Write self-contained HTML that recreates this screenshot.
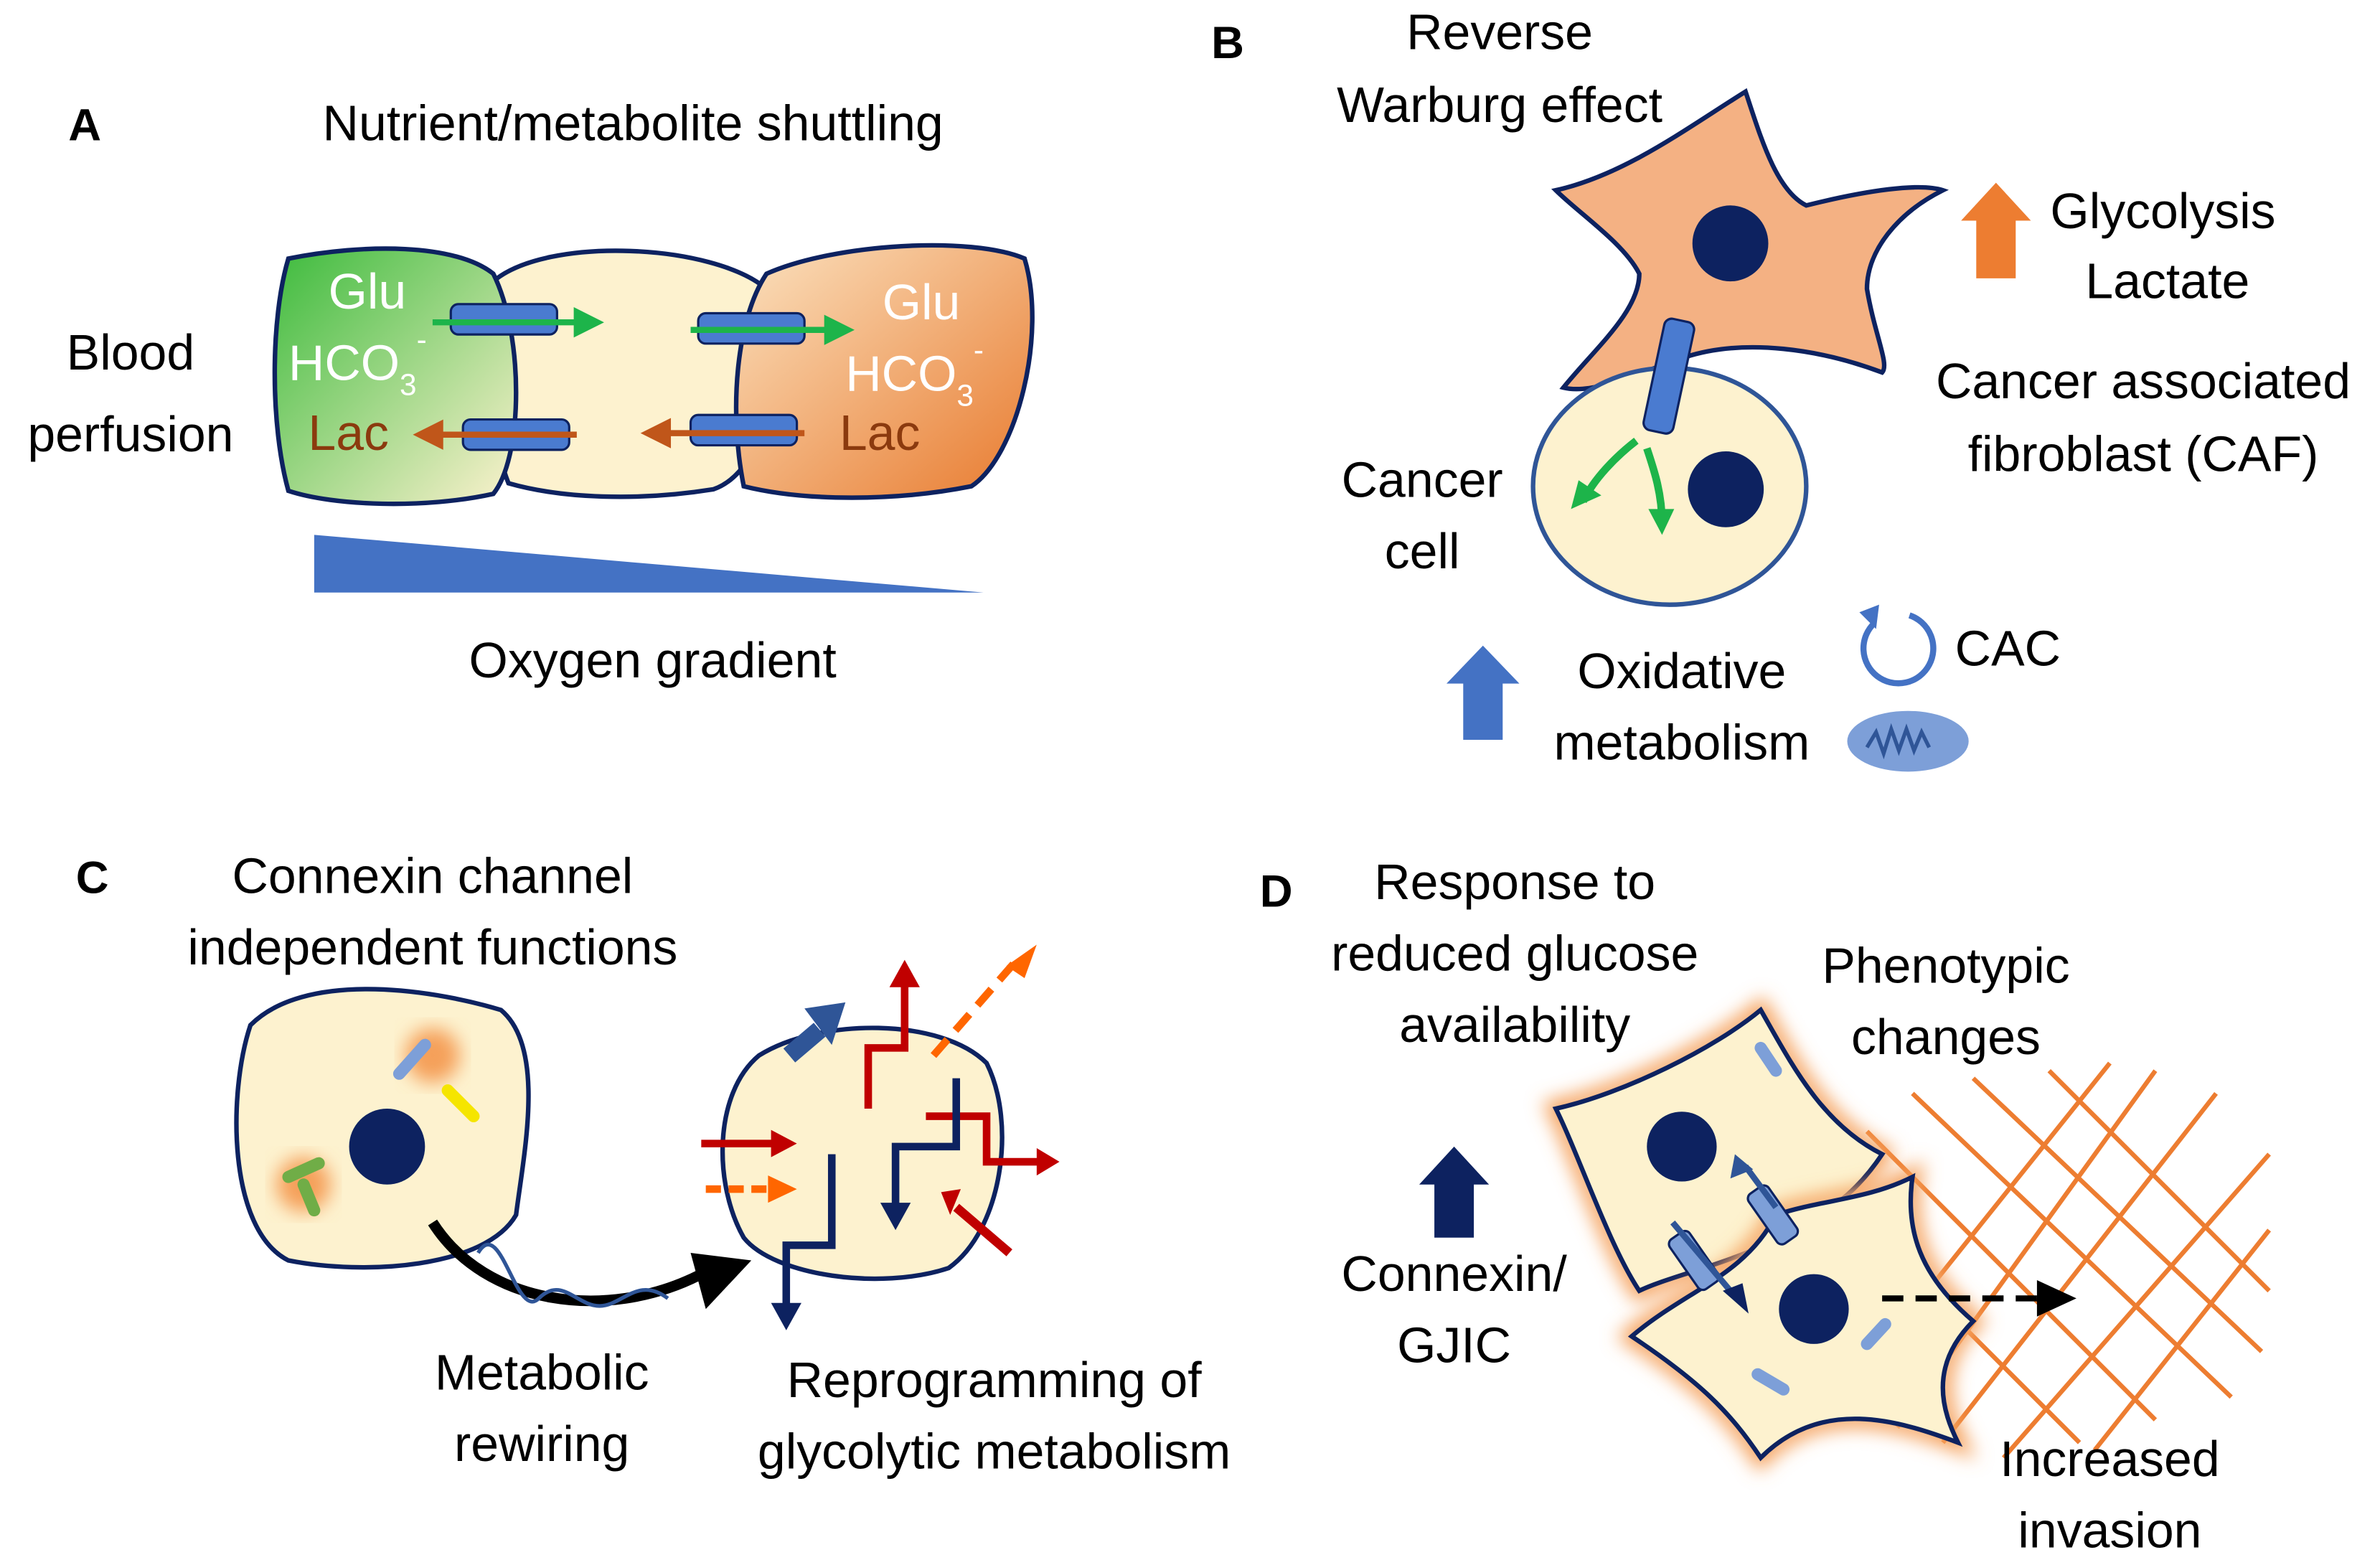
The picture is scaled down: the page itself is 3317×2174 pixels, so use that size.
<!DOCTYPE html>
<html><head><meta charset="utf-8"><style>
html,body{margin:0;padding:0;background:#fff;}
svg{display:block;}
text{font-family:"Liberation Sans",sans-serif;font-size:33px;fill:#000;}
</style></head><body>
<svg width="3317" height="2174" viewBox="0 0 1568 1027" xmlns="http://www.w3.org/2000/svg">
<defs>
<linearGradient id="gG" x1="0" y1="0" x2="1" y2="1"><stop offset="0" stop-color="#3dbb3d"/><stop offset="1" stop-color="#fdf2cf"/></linearGradient>
<linearGradient id="gO" x1="1" y1="1" x2="0" y2="0"><stop offset="0" stop-color="#e87a2e"/><stop offset="1" stop-color="#fbe2c0"/></linearGradient>
<filter id="glow" x="-20%" y="-20%" width="140%" height="140%"><feGaussianBlur stdDeviation="6"/></filter>
</defs>
<!-- Panel A -->
<text x="45" y="92" font-weight="bold" style="font-size:30px">A</text>
<text x="417" y="92" text-anchor="middle">Nutrient/metabolite shuttling</text>
<text x="86" y="243" text-anchor="middle">Blood</text>
<text x="86" y="297" text-anchor="middle">perfusion</text>
<path d="M325,185 C360,155 470,160 505,190 C520,240 505,310 470,322 C420,330 370,328 335,318 C320,280 318,220 325,185Z" fill="#fdf2cf" stroke="#0d2260" stroke-width="3"/>
<path d="M190,170 C240,160 300,160 325,180 C345,220 345,300 325,325 C280,335 220,333 190,323 C178,280 178,210 190,170Z" fill="url(#gG)" stroke="#0d2260" stroke-width="3"/>
<path d="M505,180 C550,160 640,155 675,170 C690,220 670,300 640,320 C590,330 530,330 490,320 C480,270 485,210 505,180Z" fill="url(#gO)" stroke="#0d2260" stroke-width="3"/>
<text x="242" y="203" text-anchor="middle" style="fill:#fff">Glu</text>
<text x="190" y="250" style="fill:#fff">HCO<tspan style="font-size:20px" dy="10">3</tspan><tspan style="font-size:20px" dy="-30">-</tspan></text>
<text x="203" y="296" style="fill:#8b3a0e">Lac</text>
<text x="607" y="210" text-anchor="middle" style="fill:#fff">Glu</text>
<text x="557" y="257" style="fill:#fff">HCO<tspan style="font-size:20px" dy="10">3</tspan><tspan style="font-size:20px" dy="-30">-</tspan></text>
<text x="553" y="296" style="fill:#8b3a0e">Lac</text>
<g fill="#4a7bd0" stroke="#0d2260" stroke-width="1.5">
<rect x="297" y="200" width="70" height="20" rx="5"/><rect x="460" y="206" width="70" height="20" rx="5"/>
<rect x="305" y="276" width="70" height="20" rx="5"/><rect x="455" y="273" width="70" height="20" rx="5"/>
</g>
<g stroke-width="4">
<line x1="285" y1="212" x2="380" y2="212" stroke="#1db44a"/><path d="M378,202L398,212L378,222z" fill="#1db44a"/>
<line x1="455" y1="217" x2="545" y2="217" stroke="#1db44a"/><path d="M543,207L563,217L543,227z" fill="#1db44a"/>
<line x1="290" y1="286" x2="380" y2="286" stroke="#c0561a"/><path d="M292,276L272,286L292,296z" fill="#c0561a"/>
<line x1="440" y1="285" x2="530" y2="285" stroke="#c0561a"/><path d="M442,275L422,285L442,295z" fill="#c0561a"/>
</g>
<path d="M207,352L207,390L648,390z" fill="#4472c4"/>
<text x="430" y="446" text-anchor="middle">Oxygen gradient</text>
<!-- Panel B -->
<text x="798" y="38" font-weight="bold" style="font-size:30px">B</text>
<text x="988" y="32" text-anchor="middle">Reverse</text>
<text x="988" y="80" text-anchor="middle">Warburg effect</text>
<path d="M1025,125 C1070,115 1110,85 1150,60 C1160,90 1170,125 1190,135 C1230,125 1265,120 1280,125 C1250,140 1230,165 1230,190 C1235,220 1245,240 1240,245 C1200,230 1150,222 1110,235 C1080,245 1050,260 1030,255 C1050,230 1080,205 1080,180 C1070,160 1040,140 1025,125Z" fill="#f4b183" stroke="#0d2260" stroke-width="3"/>
<circle cx="1140" cy="160" r="25" fill="#0d2260"/>
<ellipse cx="1100" cy="320" rx="90" ry="78" fill="#fdf2cf" stroke="#2f5597" stroke-width="3"/>
<circle cx="1137" cy="322" r="25" fill="#0d2260"/>
<g fill="#4a7bd0" stroke="#0d2260" stroke-width="1.5" transform="rotate(12 1100 245)">
<rect x="1090" y="210" width="20" height="75" rx="5"/>
</g>
<g stroke="#1db44a" stroke-width="5" fill="none">
<path d="M1078,290 C1065,300 1050,315 1043,330"/><path d="M1085,295 C1090,310 1095,325 1095,345"/>
</g>
<path d="M1035,335L1040,316L1055,326z" fill="#1db44a"/><path d="M1095,352L1086,335L1103,335z" fill="#1db44a"/>
<path d="M1292,145L1315,120L1338,145L1328,145L1328,183L1302,183L1302,145z" fill="#ed7d31"/>
<text x="1425" y="150" text-anchor="middle">Glycolysis</text>
<text x="1428" y="196" text-anchor="middle">Lactate</text>
<text x="1412" y="262" text-anchor="middle">Cancer associated</text>
<text x="1412" y="310" text-anchor="middle">fibroblast (CAF)</text>
<text x="937" y="327" text-anchor="middle">Cancer</text>
<text x="937" y="374" text-anchor="middle">cell</text>
<path d="M953,450L977,425L1001,450L990,450L990,487L964,487L964,450z" fill="#4472c4"/>
<text x="1108" y="453" text-anchor="middle">Oxidative</text>
<text x="1108" y="500" text-anchor="middle">metabolism</text>
<path d="M1235,410 A23,23 0 1,0 1258,405" fill="none" stroke="#4472c4" stroke-width="4"/>
<path d="M1225,403L1238,398L1236,414z" fill="#4472c4"/>
<text x="1288" y="438">CAC</text>
<ellipse cx="1257" cy="488" rx="40" ry="20" fill="#7d9fd8"/>
<path d="M1230,492 l6,-10 l5,14 l5,-16 l5,14 l5,-14 l5,14 l5,-12 l5,10" stroke="#2f5597" stroke-width="2.5" fill="none"/>
<!-- Panel C -->
<text x="50" y="588" font-weight="bold" style="font-size:30px">C</text>
<text x="285" y="588" text-anchor="middle">Connexin channel</text>
<text x="285" y="635" text-anchor="middle">independent functions</text>
<path d="M165,675 C200,640 280,650 330,665 C360,690 345,760 340,800 C320,835 240,840 190,830 C150,810 150,720 165,675Z" fill="#fdf2cf" stroke="#0d2260" stroke-width="3"/>
<circle cx="255" cy="755" r="25" fill="#0d2260"/>
<circle cx="285" cy="695" r="18" fill="#f5a05a" filter="url(#glow)"/>
<circle cx="200" cy="780" r="18" fill="#f5a05a" filter="url(#glow)"/>
<line x1="263" y1="707" x2="280" y2="688" stroke="#7d9fd8" stroke-width="8" stroke-linecap="round"/>
<line x1="295" y1="718" x2="312" y2="735" stroke="#f5e500" stroke-width="8" stroke-linecap="round"/>
<line x1="190" y1="775" x2="210" y2="766" stroke="#70ad47" stroke-width="8" stroke-linecap="round"/>
<line x1="200" y1="780" x2="207" y2="797" stroke="#70ad47" stroke-width="8" stroke-linecap="round"/>
<path d="M285,805 C320,860 400,870 460,840" stroke="#000" stroke-width="7" fill="none"/>
<path d="M455,825L495,830L465,862z" fill="#000"/>
<path d="M315,825 C330,800 340,870 355,855 C370,840 380,860 395,860 C410,860 420,840 440,855" stroke="#2f5597" stroke-width="2.5" fill="none"/>
<text x="357" y="915" text-anchor="middle">Metabolic</text>
<text x="357" y="962" text-anchor="middle">rewiring</text>
<path d="M500,695 C540,670 620,670 650,700 C670,740 660,810 625,835 C580,850 510,840 490,815 C470,780 470,720 500,695Z" fill="#fdf2cf" stroke="#0d2260" stroke-width="3"/>
<g fill="none" stroke-width="5">
<path d="M572,730 L572,690 L596,690 L596,645" stroke="#c00000"/>
<path d="M610,735 L650,735 L650,765 L685,765" stroke="#c00000"/>
<path d="M462,753 L510,753" stroke="#c00000"/>
<path d="M665,825 L630,795" stroke="#c00000" stroke-width="6"/>
<path d="M548,760 L548,820 L518,820 L518,860" stroke="#0d2260"/>
<path d="M630,710 L630,755 L590,755 L590,795" stroke="#0d2260"/>
<path d="M465,783 L510,783" stroke="#ff6600" stroke-dasharray="10,5"/>
<path d="M615,695 L670,632" stroke="#ff6600" stroke-dasharray="14,8"/>
<path d="M520,695 L540,678" stroke="#2f5597" stroke-width="12"/>
</g>
<path d="M586,650L596,632L606,650z" fill="#c00000"/>
<path d="M683,756L698,765L683,774z" fill="#c00000"/>
<path d="M508,744L525,753L508,762z" fill="#c00000"/>
<path d="M620,785L633,783L626,800z" fill="#c00000"/>
<path d="M508,874L518,856L528,874z" fill="#0d2260" transform="rotate(180 518 866)"/>
<path d="M580,792L590,810L600,792z" fill="#0d2260"/>
<path d="M506,774L525,783L506,792z" fill="#ff6600"/>
<path d="M663,636L683,622L675,644z" fill="#ff6600"/>
<path d="M530,664L557,660L548,688z" fill="#2f5597"/>
<text x="655" y="920" text-anchor="middle">Reprogramming of</text>
<text x="655" y="967" text-anchor="middle">glycolytic metabolism</text>
<!-- Panel D -->
<text x="830" y="597" font-weight="bold" style="font-size:30px">D</text>
<text x="998" y="592" text-anchor="middle">Response to</text>
<text x="998" y="639" text-anchor="middle">reduced glucose</text>
<text x="998" y="686" text-anchor="middle">availability</text>
<text x="1282" y="647" text-anchor="middle">Phenotypic</text>
<text x="1282" y="694" text-anchor="middle">changes</text>
<path d="M935,780L958,755L981,780L971,780L971,815L945,815L945,780z" fill="#0d2260"/>
<text x="958" y="850" text-anchor="middle">Connexin/</text>
<text x="958" y="897" text-anchor="middle">GJIC</text>
<g stroke="#ed7d31" stroke-width="3">
<line x1="1230" y1="745" x2="1420" y2="935"/><line x1="1260" y1="720" x2="1470" y2="920"/><line x1="1300" y1="710" x2="1490" y2="890"/><line x1="1220" y1="800" x2="1370" y2="950"/><line x1="1350" y1="705" x2="1495" y2="850"/>
<line x1="1250" y1="940" x2="1420" y2="705"/><line x1="1280" y1="950" x2="1460" y2="720"/><line x1="1320" y1="960" x2="1495" y2="760"/><line x1="1230" y1="900" x2="1390" y2="700"/><line x1="1380" y1="955" x2="1495" y2="810"/>
</g>
<g fill="#fdf2cf" stroke="#0d2260" stroke-width="3">
<path d="M1025,730 C1070,720 1130,690 1160,665 C1180,700 1200,740 1240,760 C1220,790 1200,800 1180,810 C1150,830 1100,840 1080,850 C1060,820 1040,760 1025,730Z" stroke="#f5a05a" stroke-width="12" filter="url(#glow)"/>
<path d="M1025,730 C1070,720 1130,690 1160,665 C1180,700 1200,740 1240,760 C1220,790 1200,800 1180,810 C1150,830 1100,840 1080,850 C1060,820 1040,760 1025,730Z"/>
<path d="M1075,880 C1110,850 1150,840 1170,800 C1200,790 1230,790 1260,775 C1255,810 1265,840 1300,870 C1270,900 1280,930 1290,950 C1250,935 1200,920 1160,960 C1140,930 1120,910 1075,880Z" stroke="#f5a05a" stroke-width="12" filter="url(#glow)"/>
<path d="M1075,880 C1110,850 1150,840 1170,800 C1200,790 1230,790 1260,775 C1255,810 1265,840 1300,870 C1270,900 1280,930 1290,950 C1250,935 1200,920 1160,960 C1140,930 1120,910 1075,880Z"/>
</g>
<circle cx="1108" cy="755" r="23" fill="#0d2260"/>
<circle cx="1195" cy="862" r="23" fill="#0d2260"/>
<g stroke="#7d9fd8" stroke-width="8" stroke-linecap="round">
<line x1="1160" y1="690" x2="1170" y2="705"/><line x1="1230" y1="885" x2="1242" y2="872"/><line x1="1158" y1="905" x2="1175" y2="915"/>
</g>
<g fill="#7d9fd8" stroke="#0d2260" stroke-width="1.5">
<rect x="1160" y="780" width="16" height="40" rx="4" transform="rotate(-35 1168 800)"/>
<rect x="1108" y="810" width="16" height="40" rx="4" transform="rotate(-35 1116 830)"/>
</g>
<g stroke="#2f5597" stroke-width="4">
<line x1="1170" y1="795" x2="1150" y2="768"/><line x1="1102" y1="805" x2="1140" y2="850"/>
</g>
<path d="M1143,760L1140,776L1155,770z" fill="#2f5597"/>
<path d="M1152,865L1135,850L1148,845z" fill="#0d2260"/>
<line x1="1240" y1="855" x2="1345" y2="855" stroke="#000" stroke-width="4" stroke-dasharray="14,8"/>
<path d="M1342,843L1368,855L1342,867z" fill="#000"/>
<text x="1390" y="972" text-anchor="middle">Increased</text>
<text x="1390" y="1019" text-anchor="middle">invasion</text>
</svg>
</body></html>
